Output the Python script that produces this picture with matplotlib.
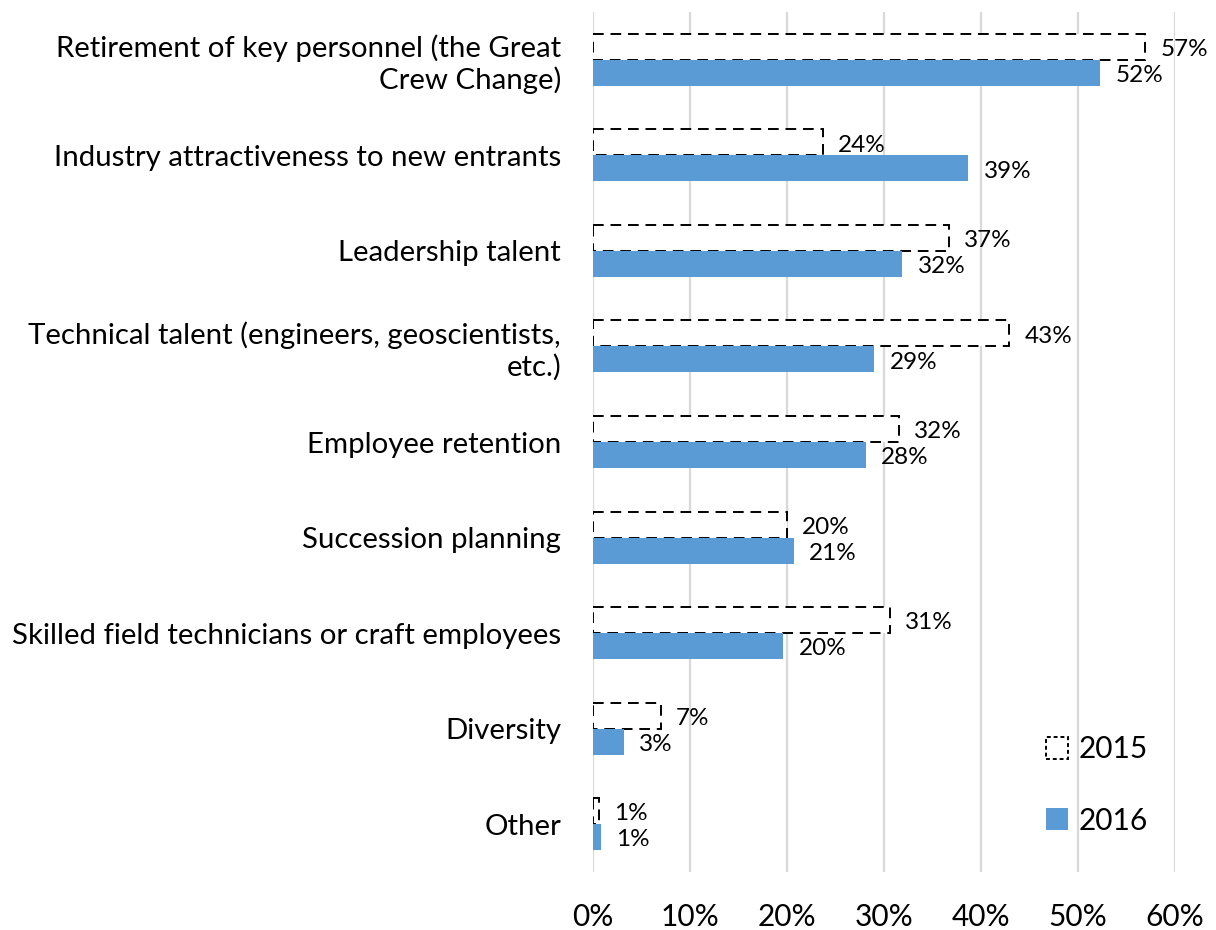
import matplotlib
matplotlib.use("Agg")
import matplotlib.pyplot as plt
from matplotlib import font_manager
from matplotlib.patches import Patch
from matplotlib.ticker import FuncFormatter, MultipleLocator

categories = [
    "Retirement of key personnel (the Great\nCrew Change)",
    "Industry attractiveness to new entrants",
    "Leadership talent",
    "Technical talent (engineers, geoscientists,\netc.)",
    "Employee retention",
    "Succession planning",
    "Skilled field technicians or craft employees",
    "Diversity",
    "Other",
]
values_2015 = [56.9, 23.7, 36.7, 42.9, 31.5, 20.0, 30.6, 7.0, 0.6]
values_2016 = [52.3, 38.7, 31.9, 29.0, 28.1, 20.7, 19.6, 3.2, 0.8]
series_labels = ["2015", "2016"]

available = {f.name for f in font_manager.fontManager.ttflist}
family = next((f for f in ["Liberation Sans Narrow", "Lato", "Liberation Sans"]
               if f in available), "DejaVu Sans")
plt.rcParams["font.family"] = [family, "DejaVu Sans"]

blue = "#5B9BD5"
grid_color = "#D9D9D9"

fig = plt.figure(figsize=(12.16, 9.30), dpi=100)
ax = fig.add_axes([0.4877, 0.0624, 0.4786, 0.9246])

ypos = list(range(len(categories)))
bar_h = 0.272

ax.barh([y - bar_h / 2 for y in ypos], values_2015, height=bar_h,
        facecolor="white", edgecolor="black", linewidth=1.4,
        linestyle=(0, (5.5, 3.5)), zorder=3, label=series_labels[0])
ax.barh([y + bar_h / 2 for y in ypos], values_2016, height=bar_h,
        color=blue, zorder=3, label=series_labels[1])

label_fs = 17.5
for y, v in zip(ypos, values_2015):
    ax.annotate(f"{v:.0f}%", (v, y - bar_h / 2), xytext=(11, -2),
                textcoords="offset points", ha="left", va="center",
                fontsize=label_fs)
for y, v in zip(ypos, values_2016):
    ax.annotate(f"{v:.0f}%", (v, y + bar_h / 2), xytext=(11, -2),
                textcoords="offset points", ha="left", va="center",
                fontsize=label_fs)

ax.set_xlim(0, 60)
ax.set_ylim(len(categories) - 0.5, -0.5)
ax.xaxis.set_major_locator(MultipleLocator(10))
ax.xaxis.set_major_formatter(FuncFormatter(lambda x, _: f"{x:.0f}%"))
ax.set_yticks(ypos)
ax.set_yticklabels(categories, fontsize=21.2, ha="right")
ax.tick_params(axis="y", length=0, pad=23)
ax.tick_params(axis="x", length=0, pad=22, labelsize=21.5)
ax.grid(axis="x", color=grid_color, linewidth=1.6, zorder=0)
ax.set_axisbelow(True)
for s in ax.spines.values():
    s.set_visible(False)

handles = [Patch(facecolor="white", edgecolor="black", linestyle=(0, (2, 1.5)),
                 linewidth=1.4, label=series_labels[0]),
           Patch(facecolor=blue, label=series_labels[1])]
ax.legend(handles=handles, loc="lower right", bbox_to_anchor=(1.0, 0.012),
          frameon=False, fontsize=21.5, handlelength=0.75, handleheight=0.75,
          handletextpad=0.35, labelspacing=1.45)

fig.savefig("out.png", dpi=100)
